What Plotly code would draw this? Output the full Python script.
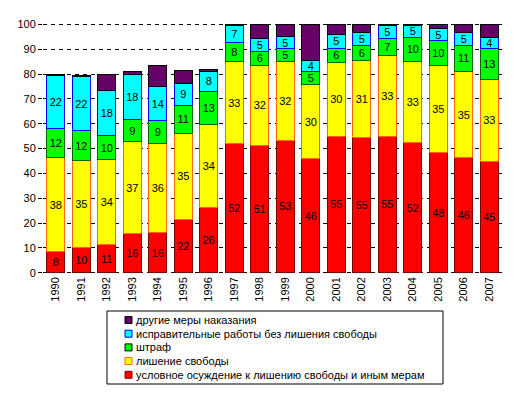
import plotly.graph_objects as go

years = [str(y) for y in range(1990, 2008)]

# условное осуждение
suspended = [8.4, 10.1, 11.3, 15.7, 16.2, 21.6, 26.2, 52.0, 51.3, 53.4, 46.0, 55.0, 54.6, 55.0, 52.4, 48.4, 46.4, 44.9]
# лишение свободы
prison = [38.0, 35.1, 34.3, 37.1, 35.8, 34.6, 33.6, 33.1, 32.2, 31.7, 29.7, 29.6, 30.9, 32.6, 32.8, 35.1, 34.6, 32.9]
# штраф
fine = [11.6, 11.9, 9.6, 8.8, 9.3, 11.2, 13.2, 7.6, 5.6, 5.1, 5.3, 5.9, 5.9, 6.6, 9.7, 10.0, 10.7, 12.6]
# исправительные работы
corrective = [21.6, 21.9, 18.2, 18.2, 13.6, 8.8, 8.1, 7.0, 5.1, 5.0, 4.4, 5.3, 5.4, 5.3, 4.8, 4.9, 5.1, 4.3]
# другие меры
other = [0.2, 0.4, 6.3, 1.1, 8.7, 5.4, 0.6, 0.3, 5.8, 4.8, 14.6, 4.2, 3.2, 0.5, 0.3, 1.6, 3.2, 5.3]

y_ticks = list(range(0, 101, 10))

series = [
    ("условное осуждение к лишению свободы и иным мерам", suspended, "#FF0000", "#800000", True),
    ("лишение свободы", prison, "#FFFF00", "#FF6600", True),
    ("штраф", fine, "#00FF00", "#006600", True),
    ("исправительные работы без лишения свободы", corrective, "#00FFFF", "#0000FF", True),
    ("другие меры наказания", other, "#660066", "#000000", False),
]

FONT = "Liberation Sans, Arial, sans-serif"
W, H = 516, 393
ML, MR, MT, MB = 43, 14, 22, 119
PW = W - ML - MR
PH = H - MT - MB


def px_x(px):
    return (px - ML) / PW


def px_y(py):
    return (H - MB - py) / PH


fig = go.Figure()
for name, vals, fill, line, show_text in series:
    fig.add_trace(go.Bar(
        x=years, y=vals, name=name,
        marker=dict(color=fill, line=dict(color=line, width=1)),
        text=[f"{v:.0f}" for v in vals] if show_text else None,
        textposition="inside" if show_text else "none",
        insidetextanchor="middle",
        textangle=0,
        textfont=dict(family=FONT, size=11, color="black"),
        hoverinfo="skip",
        showlegend=False,
    ))

# custom compact legend (reversed order, boxed)
shapes = [dict(type="rect", xref="paper", yref="paper",
               x0=px_x(107), x1=px_x(443), y0=px_y(384), y1=px_y(311),
               line=dict(color="black", width=1), fillcolor="white", layer="above")]
annotations = []
row0, row_step = 320, 13.7
for i, (name, vals, fill, line, _) in enumerate(reversed(series)):
    cy = row0 + i * row_step
    shapes.append(dict(type="rect", xref="paper", yref="paper",
                       x0=px_x(125), x1=px_x(132), y0=px_y(cy + 3.5), y1=px_y(cy - 3.5),
                       line=dict(color=line if line != "#006600" else "#000000", width=1),
                       fillcolor=fill, layer="above"))
    annotations.append(dict(xref="paper", yref="paper", x=px_x(134), y=px_y(cy),
                            xanchor="left", yanchor="middle", text=name, showarrow=False,
                            font=dict(family=FONT, size=11, color="black")))

fig.update_layout(
    barmode="stack",
    bargap=0.28,
    width=W, height=H,
    margin=dict(l=ML, r=MR, t=MT, b=MB),
    plot_bgcolor="white",
    paper_bgcolor="white",
    font=dict(family=FONT, size=11, color="black"),
    uniformtext=dict(minsize=11, mode="show"),
    showlegend=False,
    hovermode=False,
    shapes=shapes,
    annotations=annotations,
    xaxis=dict(
        tickangle=-90,
        showgrid=False,
        showline=False,
        ticks="",
        tickfont=dict(family=FONT, size=11, color="black"),
    ),
    yaxis=dict(
        range=[-0.5, 101],
        tickvals=y_ticks,
        showgrid=True,
        gridcolor="black",
        griddash="4px,4px",
        gridwidth=1,
        zeroline=False,
        showline=False,
        ticks="outside",
        ticklen=4,
        tickcolor="black",
        tickfont=dict(family=FONT, size=11, color="black"),
    ),
)

fig.write_html("out.html", config={"displayModeBar": False},
               post_script="document.body.style.margin='0';")
